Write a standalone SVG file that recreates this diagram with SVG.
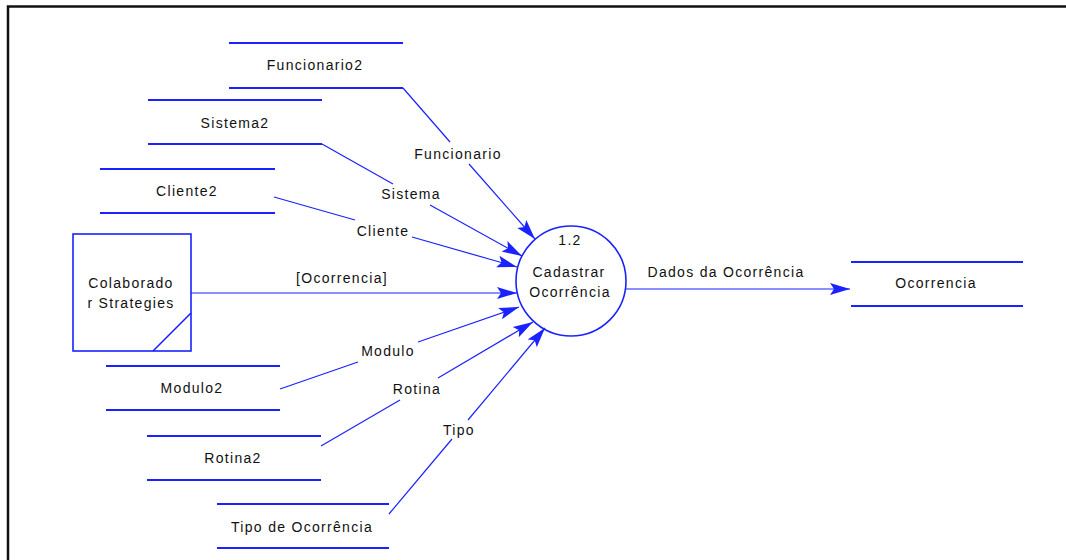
<svg xmlns="http://www.w3.org/2000/svg" width="1066" height="560" viewBox="0 0 1066 560">
  <style>
    .lbl { font-family: "Liberation Sans", Arial, sans-serif; font-size: 14px; letter-spacing: 1.3px; fill: #111; text-anchor: middle; }
    .store { stroke: #1a22ff; stroke-width: 2; fill: none; }
    .flow { stroke: #1a22ff; stroke-width: 1.2; fill: none; }
    .shape { stroke: #1a22ff; stroke-width: 1.6; fill: none; }
  </style>
  <defs>
    <marker id="arrow" markerUnits="userSpaceOnUse" markerWidth="22" markerHeight="14" refX="20" refY="7" orient="auto">
      <path d="M0,1 L20,7 L0,13 L4,7 z" fill="#1a22ff"/>
    </marker>
  </defs>

  <rect width="1066" height="560" fill="#ffffff"/>
  <!-- page frame -->
  <path d="M8,560 V6.5 H1066" fill="none" stroke="#111" stroke-width="2.5"/>

  <!-- data stores -->
  <g id="store-funcionario2">
    <line class="store" x1="229" y1="43" x2="403" y2="43"/>
    <line class="store" x1="229" y1="88" x2="403" y2="88"/>
    <text class="lbl" x="315" y="70">Funcionario2</text>
  </g>
  <g id="store-sistema2">
    <line class="store" x1="148" y1="100" x2="322" y2="100"/>
    <line class="store" x1="148" y1="144" x2="322" y2="144"/>
    <text class="lbl" x="235" y="128">Sistema2</text>
  </g>
  <g id="store-cliente2">
    <line class="store" x1="100" y1="169" x2="275" y2="169"/>
    <line class="store" x1="100" y1="213" x2="275" y2="213"/>
    <text class="lbl" x="187" y="196">Cliente2</text>
  </g>
  <g id="store-modulo2">
    <line class="store" x1="106" y1="366" x2="280" y2="366"/>
    <line class="store" x1="106" y1="410" x2="280" y2="410"/>
    <text class="lbl" x="192" y="393">Modulo2</text>
  </g>
  <g id="store-rotina2">
    <line class="store" x1="147" y1="436" x2="321" y2="436"/>
    <line class="store" x1="147" y1="480" x2="321" y2="480"/>
    <text class="lbl" x="233" y="463">Rotina2</text>
  </g>
  <g id="store-tipo">
    <line class="store" x1="217" y1="504" x2="389" y2="504"/>
    <line class="store" x1="217" y1="548" x2="389" y2="548"/>
    <text class="lbl" x="302" y="532">Tipo de Ocorrência</text>
  </g>
  <g id="store-ocorrencia">
    <line class="store" x1="851" y1="262" x2="1023" y2="262"/>
    <line class="store" x1="851" y1="306" x2="1023" y2="306"/>
    <text class="lbl" x="936" y="288">Ocorrencia</text>
  </g>

  <!-- external entity -->
  <g id="entity-colaborador">
    <rect class="shape" x="73" y="234" width="118" height="117"/>
    <line class="shape" x1="153" y1="351" x2="191" y2="313"/>
    <text class="lbl" x="131" y="288">Colaborado</text>
    <text class="lbl" x="131" y="308">r Strategies</text>
  </g>

  <!-- process -->
  <g id="process-1-2">
    <circle class="shape" cx="571" cy="281" r="55"/>
    <text class="lbl" x="570" y="245">1.2</text>
    <text class="lbl" x="569" y="277">Cadastrar</text>
    <text class="lbl" x="570" y="297">Ocorrência</text>
  </g>

  <!-- data flows -->
  <g id="flows">
    <line class="flow" x1="403" y1="88" x2="450" y2="142"/>
    <line class="flow" x1="469" y1="164" x2="535" y2="239" marker-end="url(#arrow)"/>
    <text class="lbl" x="458" y="159">Funcionario</text>

    <line class="flow" x1="322" y1="144" x2="393" y2="184"/>
    <line class="flow" x1="430" y1="205" x2="522" y2="256" marker-end="url(#arrow)"/>
    <text class="lbl" x="411" y="199">Sistema</text>

    <line class="flow" x1="274" y1="197" x2="355" y2="220"/>
    <line class="flow" x1="412" y1="237" x2="517" y2="267" marker-end="url(#arrow)"/>
    <text class="lbl" x="383" y="236">Cliente</text>

    <line class="flow" x1="191" y1="293" x2="517" y2="293" marker-end="url(#arrow)"/>
    <text class="lbl" x="342" y="283">[Ocorrencia]</text>

    <line class="flow" x1="280" y1="389" x2="358" y2="362"/>
    <line class="flow" x1="418" y1="342" x2="519" y2="307" marker-end="url(#arrow)"/>
    <text class="lbl" x="388" y="356">Modulo</text>

    <line class="flow" x1="321" y1="446" x2="400" y2="400"/>
    <line class="flow" x1="438" y1="378" x2="533" y2="322" marker-end="url(#arrow)"/>
    <text class="lbl" x="417" y="394">Rotina</text>

    <line class="flow" x1="389" y1="514" x2="452" y2="439"/>
    <line class="flow" x1="468" y1="420" x2="545" y2="328" marker-end="url(#arrow)"/>
    <text class="lbl" x="459" y="435">Tipo</text>

    <line class="flow" x1="626" y1="289" x2="850" y2="289" marker-end="url(#arrow)"/>
    <text class="lbl" x="726" y="277">Dados da Ocorrência</text>
  </g>
</svg>
